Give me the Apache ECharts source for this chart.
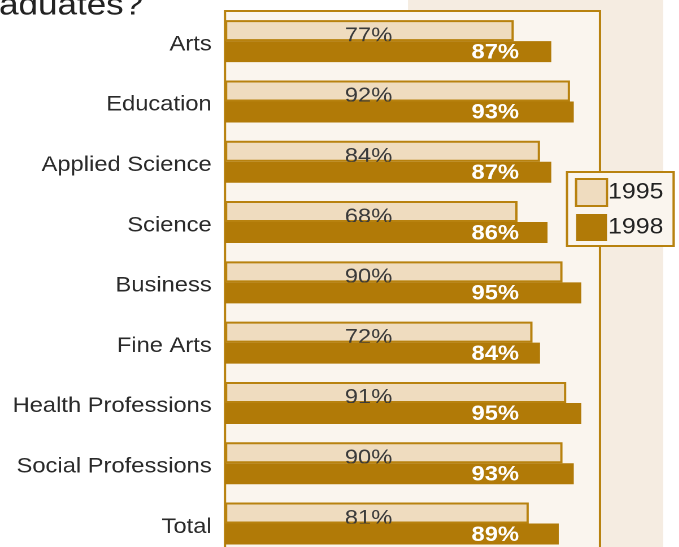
<!DOCTYPE html>
<html><head><meta charset="utf-8">
<script src="https://cdn.jsdelivr.net/npm/echarts@6/dist/echarts.min.js"></script>
<style>
html,body{margin:0;padding:0;background:#fff;overflow:hidden}
#wrap{width:679px;height:547px;overflow:hidden;position:relative}
#chart{height:560px;transform-origin:0 0}
</style></head>
<body><div id="wrap"><div id="chart"></div></div>
<script>
// ---- data ----
const categories = ['Arts', 'Education', 'Applied Science', 'Science', 'Business', 'Fine Arts', 'Health Professions', 'Social Professions', 'Total'];
const seriesNames = ['1995', '1998'];
const values1995 = [77, 92, 84, 78, 90, 82, 91, 90, 81];   // bar lengths as drawn
const labels1995 = [77, 92, 84, 68, 90, 72, 91, 90, 81];   // printed percentages
const values1998 = [87, 93, 87, 86, 95, 84, 95, 93, 89];
const labels1998 = [87, 93, 87, 86, 95, 84, 95, 93, 89];
const titleText = 'aduates?';

// ---- layout (reference pixels, horizontally stretched by S) ----
const S = 1.13;
const W = 679 / S;
const H = 560;
const el = document.getElementById('chart');
el.style.width = W + 'px';
el.style.transform = 'scaleX(' + S + ')';

const BROWN = '#b17a07';
const EDGE = '#b8820f';
const BEIGE = '#efdcbf';
const PLOT_BG = '#faf5ee';
const BAND_BG = '#f5ece1';
const FONT = '"Liberation Sans", Arial, sans-serif';

const chart = echarts.init(el, null, {renderer: 'canvas', devicePixelRatio: 2});
chart.setOption({
  animation: false,
  backgroundColor: '#ffffff',
  graphic: [
    {type: 'rect', z: -10, silent: true,
     shape: {x: 408 / S, y: 0, width: (663 - 408) / S, height: H},
     style: {fill: BAND_BG}},
    {type: 'text', z: 5, x: -1 / S, y: 6,
     style: {text: titleText, font: '31px ' + FONT, fill: '#222', verticalAlign: 'middle', align: 'left'}}
  ],
  grid: {
    left: 225 / S, width: 375 / S, top: 11, height: 542.7,
    show: true, backgroundColor: PLOT_BG, borderColor: EDGE, borderWidth: 2,
    containLabel: false, outerBoundsMode: 'none'
  },
  legend: {
    orient: 'vertical', left: 567 / S, top: 172,
    data: seriesNames, selectedMode: false,
    icon: 'rect', itemWidth: 27.4, itemHeight: 27, itemGap: 7,
    padding: [6, 9, 5, 7],
    backgroundColor: PLOT_BG, borderColor: EDGE, borderWidth: 2, borderRadius: 0,
    textStyle: {fontSize: 22, color: '#222', fontFamily: FONT, padding: [0, 0, 0, -4]}
  },
  xAxis: {type: 'value', min: 0, max: 100, show: false},
  yAxis: {
    type: 'category', data: categories, inverse: true,
    axisLine: {show: false}, axisTick: {show: false}, splitLine: {show: false},
    axisLabel: {fontSize: 21, color: '#2a2a2a', fontFamily: FONT, margin: 13.3 / S,
                verticalAlign: 'top', lineHeight: 7}
  },
  series: [
    {
      name: seriesNames[0], type: 'bar', data: values1995, z: 2,
      barWidth: 21, barGap: '0%',
      itemStyle: {color: BEIGE, borderColor: EDGE, borderWidth: 2},
      label: {show: true, position: [127, 16], align: 'center', verticalAlign: 'middle',
              fontSize: 21, color: '#3a3a3a', fontFamily: FONT,
              formatter: p => labels1995[p.dataIndex] + '%'}
    },
    {
      name: seriesNames[1], type: 'bar', data: values1998, z: 4,
      barWidth: 21,
      itemStyle: {color: BROWN},
      label: {show: true, position: [239.2, 11.5], align: 'center', verticalAlign: 'middle',
              fontSize: 21, fontWeight: 'bold', color: '#ffffff', fontFamily: FONT,
              formatter: p => labels1998[p.dataIndex] + '%'}
    }
  ]
});
</script>
</body></html>
